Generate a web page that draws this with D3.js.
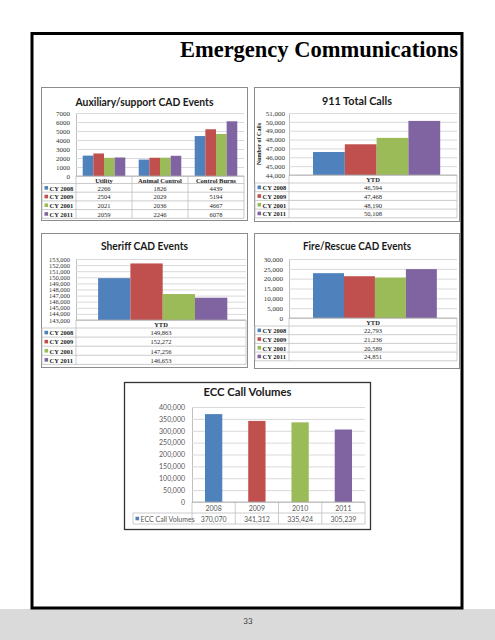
<!DOCTYPE html>
<html>
<head>
<meta charset="utf-8">
<script src="https://cdn.jsdelivr.net/npm/d3@7"></script>
<style>
  html, body { margin: 0; padding: 0; background: #fff; }
  svg { display: block; }
</style>
</head>
<body>
<svg id="page" width="495" height="640"></svg>
<script>
// ---------------- DATA ----------------
const seriesNames = ["CY 2008", "CY 2009", "CY 2001", "CY 2011"];

const auxCategories = ["Utility", "Animal Control", "Control Burns"];
const auxCY2008 = [2266, 1826, 4439];
const auxCY2009 = [2504, 2029, 5194];
const auxCY2001 = [2021, 2036, 4667];
const auxCY2011 = [2059, 2246, 6078];
const auxTicks = [0, 1000, 2000, 3000, 4000, 5000, 6000, 7000];

const ytdCategories = ["YTD"];
const calls911 = [46594, 47468, 48190, 50108];
const calls911Ticks = [44000, 45000, 46000, 47000, 48000, 49000, 50000, 51000];

const sheriffEvents = [149863, 152272, 147256, 146653];
const sheriffTicks = [143000, 144000, 145000, 146000, 147000, 148000, 149000, 150000, 151000, 152000, 153000];

const fireEvents = [22793, 21236, 20589, 24851];
const fireTicks = [0, 5000, 10000, 15000, 20000, 25000, 30000];

const eccYears = ["2008", "2009", "2010", "2011"];
const eccVolumes = [370070, 341312, 335424, 305239];
const eccTicks = [0, 50000, 100000, 150000, 200000, 250000, 300000, 350000, 400000];
const eccSeriesName = "ECC Call Volumes";

// ---------------- STYLE ----------------
const palette = ["#4F81BD", "#C0504D", "#9BBB59", "#8064A2"];
const SERIF = "'Liberation Serif', 'Times New Roman', serif";
const SANS = "Lato, 'Open Sans', sans-serif";

const svg = d3.select("#page");
svg.append("rect").attr("width", 495).attr("height", 640).attr("fill", "#fff");
// bottom grey band
svg.append("rect").attr("x", 0).attr("y", 609).attr("width", 495).attr("height", 31).attr("fill", "#dadada");
// outer frame
svg.append("rect").attr("x", 32).attr("y", 33.5).attr("width", 430).attr("height", 574.5)
  .attr("fill", "none").attr("stroke", "#000").attr("stroke-width", 3);

svg.append("text").attr("x", 458).attr("y", 57).attr("text-anchor", "end")
  .attr("font-family", SERIF).attr("font-weight", "bold").attr("font-size", 22.5)
  .attr("fill", "#000").text("Emergency Communications");

svg.append("text").attr("x", 248).attr("y", 624).attr("text-anchor", "middle")
  .attr("font-family", SANS).attr("font-size", 8).attr("fill", "#404040").text("33");

function drawChart(o) {
  const g = svg.append("g");
  g.append("rect").attr("x", o.box[0] + 0.5).attr("y", o.box[1] + 0.5)
    .attr("width", o.box[2]).attr("height", o.box[3])
    .attr("fill", "#fff").attr("stroke", o.boxStroke || "#8c8c8c").attr("stroke-width", o.boxWidth || 1);

  g.append("text").attr("x", o.box[0] + o.box[2] / 2 + 0.5).attr("y", o.titleY)
    .attr("text-anchor", "middle").attr("dominant-baseline", "central")
    .attr("font-family", SANS).attr("font-weight", "bold").attr("font-size", o.titleSize || 11.5)
    .attr("textLength", o.titleW).attr("lengthAdjust", "spacingAndGlyphs")
    .attr("fill", "#1a1a1a").text(o.title);

  const y = d3.scaleLinear().domain(o.domain).range([o.py0, o.py1]);
  const x0 = d3.scaleBand().domain(o.categories).range([o.px0, o.px1]);
  const bw = x0.bandwidth();
  const x1 = d3.scaleBand().domain(d3.range(o.series.length))
    .range([bw * o.gpL, bw * (1 - o.gpR)]);

  const font = o.sans ? SANS : SERIF;
  const labelColor = o.sans ? "#595959" : "#333";

  const ax = d3.axisLeft(y).tickValues(o.ticks).tickFormat(o.fmt)
    .tickSizeInner(-(o.px1 - o.px0)).tickSizeOuter(0).tickPadding(o.tickPad);
  const axg = g.append("g").attr("transform", `translate(${o.px0},0)`).call(ax);
  axg.select(".domain").attr("stroke", "#bfbfbf");
  axg.selectAll(".tick line").attr("stroke", "#d9d9d9");
  axg.selectAll(".tick text").attr("font-family", font).attr("font-size", o.tickSize)
    .attr("fill", labelColor);

  o.series.forEach((vals, si) => {
    g.selectAll(null).data(vals).join("rect")
      .attr("x", (d, ci) => x0(o.categories[ci]) + x1(si))
      .attr("y", d => y(d))
      .attr("width", x1.bandwidth())
      .attr("height", d => o.py0 - y(d))
      .attr("fill", (d, ci) => o.colorByPoint ? o.colors[ci % o.colors.length] : o.colors[si]);
  });

  // data table
  const nRows = o.series.length;
  const top = o.py0;
  const hBot = top + o.hh;
  const bottom = hBot + nRows * o.rh;
  const lineC = "#bfbfbf";
  for (let i = 0; i <= nRows; i++) {
    const yy = hBot + i * o.rh;
    g.append("line").attr("x1", o.lx).attr("x2", o.px1).attr("y1", yy).attr("y2", yy)
      .attr("stroke", lineC).attr("stroke-width", 0.8);
  }
  g.append("line").attr("x1", o.lx).attr("x2", o.lx).attr("y1", hBot).attr("y2", bottom)
    .attr("stroke", lineC).attr("stroke-width", 0.8);
  const vx = o.categories.map(c => x0(c)).concat([o.px1]);
  vx.forEach(xx => {
    g.append("line").attr("x1", xx).attr("x2", xx).attr("y1", top).attr("y2", bottom)
      .attr("stroke", lineC).attr("stroke-width", 0.8);
  });
  g.append("line").attr("x1", o.px0).attr("x2", o.px1).attr("y1", top).attr("y2", top)
    .attr("stroke", "#a6a6a6").attr("stroke-width", 0.8);

  g.selectAll(null).data(o.categories).join("text")
    .attr("x", c => x0(c) + bw / 2).attr("y", top + o.hh / 2 + 0.3)
    .attr("text-anchor", "middle").attr("dominant-baseline", "central")
    .attr("font-family", font).attr("font-weight", o.sans ? "normal" : "bold")
    .attr("font-size", o.tableSize).attr("fill", o.sans ? "#595959" : "#1a1a1a").text(c => c);

  o.series.forEach((vals, si) => {
    const cy = hBot + si * o.rh + o.rh / 2;
    g.append("rect").attr("x", o.lx + 2.5).attr("y", cy - 1.8).attr("width", 3.6).attr("height", 3.6)
      .attr("fill", o.colors[si]);
    g.append("text").attr("x", o.lx + 7.5).attr("y", cy + 0.3).attr("dominant-baseline", "central")
      .attr("font-family", font).attr("font-weight", o.sans ? "normal" : "bold")
      .attr("font-size", o.tableSize).attr("fill", o.sans ? "#595959" : "#1a1a1a")
      .text(o.names[si]);
    g.selectAll(null).data(vals).join("text")
      .attr("x", (d, ci) => x0(o.categories[ci]) + bw / 2).attr("y", cy + 0.3)
      .attr("text-anchor", "middle").attr("dominant-baseline", "central")
      .attr("font-family", font).attr("font-size", o.tableSize)
      .attr("fill", o.sans ? "#595959" : "#262626").text(d => o.valFmt(d));
  });

  if (o.yTitle) {
    g.append("text").attr("transform", `translate(${o.yTitle.x},${o.yTitle.y}) rotate(-90)`)
      .attr("text-anchor", "middle").attr("dominant-baseline", "central")
      .attr("font-family", SERIF).attr("font-weight", "bold").attr("font-size", 6)
      .attr("fill", "#1a1a1a").text(o.yTitle.text);
  }
}

const comma = d3.format(",");
const plain = d3.format("d");

drawChart({
  box: [41, 87, 206, 133], title: "Auxiliary/support CAD Events", titleY: 101, titleW: 138,
  px0: 76, px1: 244, py0: 176, py1: 113, domain: [0, 7000], ticks: auxTicks, fmt: plain,
  tickPad: 6, tickSize: 7, categories: auxCategories,
  series: [auxCY2008, auxCY2009, auxCY2001, auxCY2011], names: seriesNames, colors: palette,
  gpL: 0.12, gpR: 0.12, lx: 42, hh: 7.5, rh: 8.7, tableSize: 6.5, valFmt: plain
});

drawChart({
  box: [254, 87, 205, 134], title: "911 Total Calls", titleY: 100, titleW: 70,
  px0: 289, px1: 457, py0: 175, py1: 113, domain: [44000, 51000], ticks: calls911Ticks, fmt: comma,
  tickPad: 4, tickSize: 7, categories: ytdCategories,
  series: calls911.map(v => [v]), names: seriesNames, colors: palette,
  gpL: 0.143, gpR: 0.1, lx: 255, hh: 8, rh: 8.7, tableSize: 6.5, valFmt: comma,
  yTitle: { x: 259, y: 144, text: "Number of Calls" }
});

drawChart({
  box: [41, 233, 206, 134], title: "Sheriff CAD Events", titleY: 245, titleW: 87,
  px0: 76, px1: 246, py0: 320, py1: 259, domain: [143000, 153000], ticks: sheriffTicks, fmt: comma,
  tickPad: 6, tickSize: 6.5, categories: ytdCategories,
  series: sheriffEvents.map(v => [v]), names: seriesNames, colors: palette,
  gpL: 0.13, gpR: 0.11, lx: 42, hh: 8, rh: 9.1, tableSize: 6.5, valFmt: comma
});

drawChart({
  box: [254, 233, 205, 135], title: "Fire/Rescue CAD Events", titleY: 245, titleW: 108,
  px0: 289, px1: 457, py0: 318, py1: 259, domain: [0, 30000], ticks: fireTicks, fmt: comma,
  tickPad: 6, tickSize: 7, categories: ytdCategories,
  series: fireEvents.map(v => [v]), names: seriesNames, colors: palette,
  gpL: 0.143, gpR: 0.12, lx: 255, hh: 8, rh: 8.7, tableSize: 6.5, valFmt: comma
});

drawChart({
  box: [124, 382, 246, 147], title: "ECC Call Volumes", titleY: 391, titleW: 88, titleSize: 12,
  boxStroke: "#333", boxWidth: 1.3,
  px0: 192, px1: 365, py0: 502, py1: 407, domain: [0, 400000], ticks: eccTicks, fmt: comma,
  tickPad: 7, tickSize: 7, categories: eccYears, sans: true, colorByPoint: true,
  series: [eccVolumes], names: [eccSeriesName], colors: palette,
  gpL: 0.3, gpR: 0.3, lx: 133, hh: 11, rh: 11, tableSize: 7, valFmt: comma
});
</script>
</body>
</html>
